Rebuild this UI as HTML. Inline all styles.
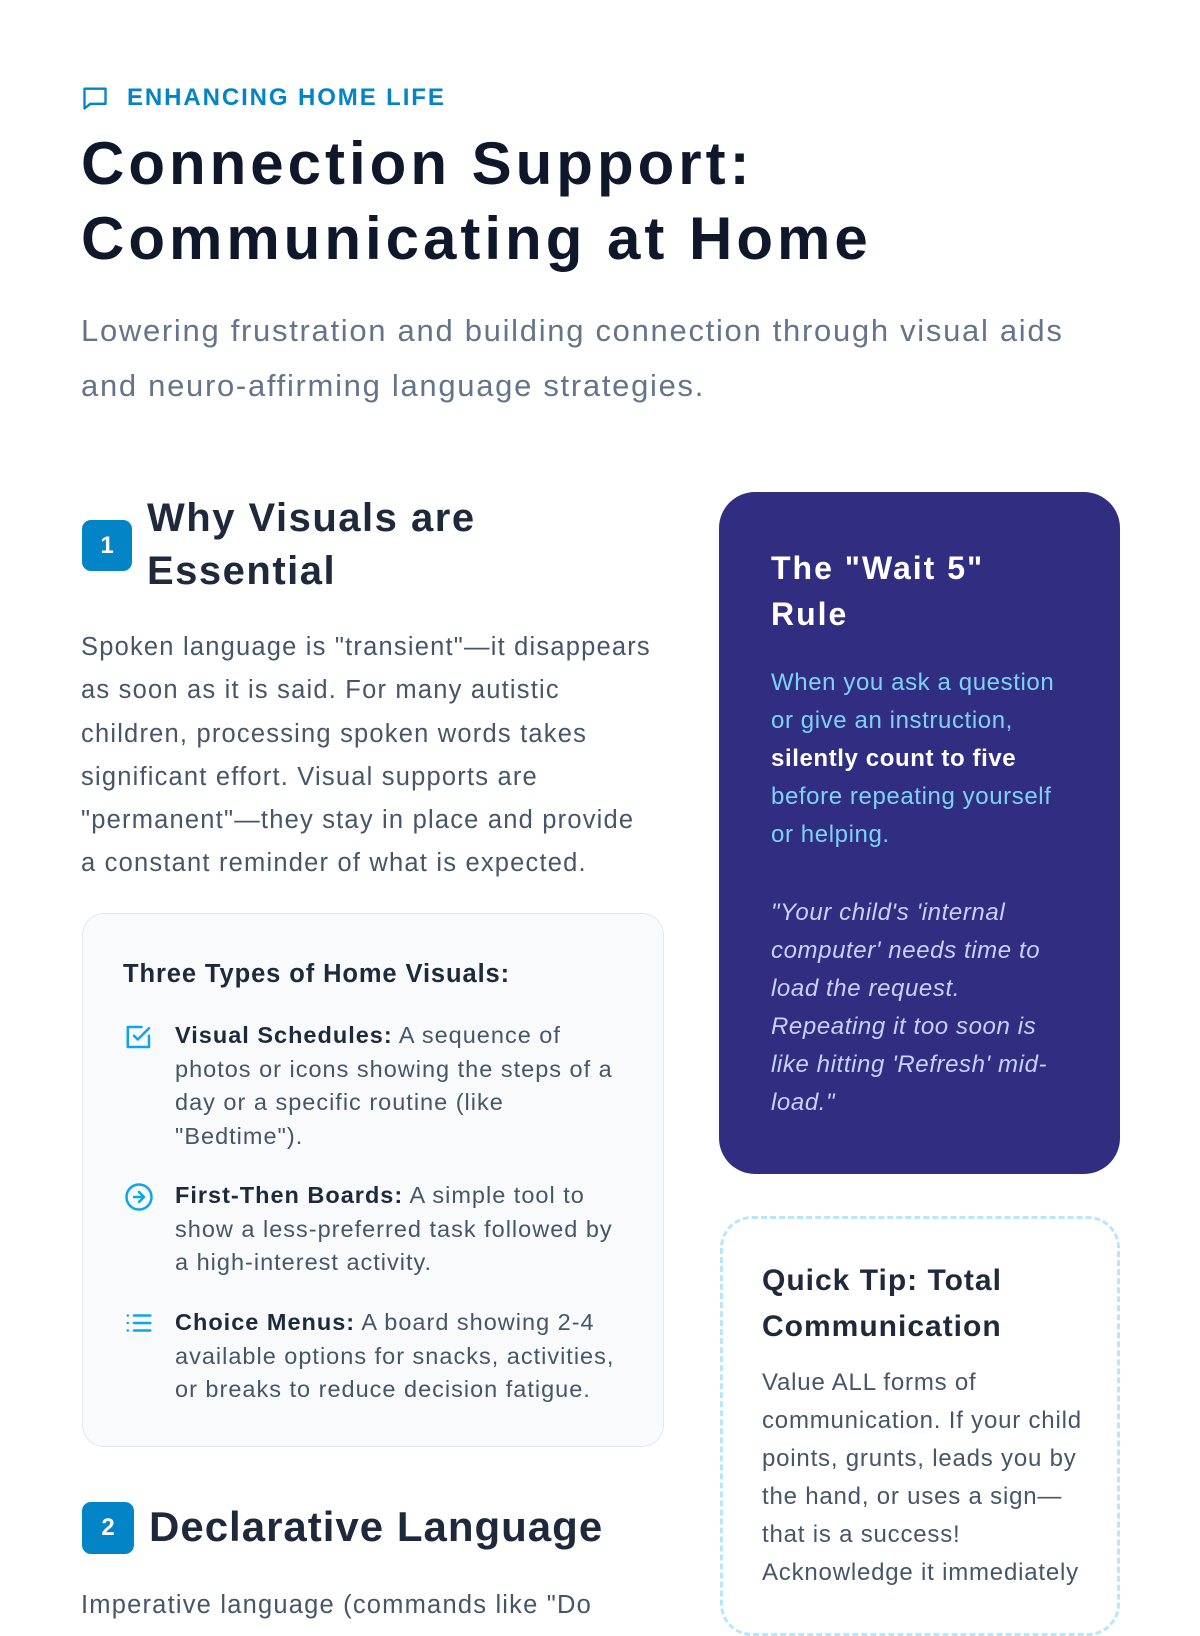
<!DOCTYPE html>
<html><head><meta charset="utf-8"><style>
*{margin:0;padding:0;box-sizing:border-box}
html,body{width:1200px;height:1600px;overflow:hidden;background:#fff;font-family:"Liberation Sans",sans-serif}
.abs{position:absolute;white-space:nowrap}
.eyebrow{left:81px;top:84px;color:#0284c7;font-weight:bold;font-size:24px;letter-spacing:1.9px;display:flex;align-items:center}
h1{left:81px;top:126px;font-size:60px;line-height:75px;color:#0f172a;font-weight:900;letter-spacing:4px}
.sub{left:81px;top:303px;font-size:31px;line-height:55px;color:#64748b;letter-spacing:1.7px}
.badge{background:#0284c7;color:#fff;font-weight:bold;border-radius:9px;display:flex;align-items:center;justify-content:center;font-size:24px}
.h2{color:#1e293b;font-weight:bold;font-size:40px;line-height:53px;letter-spacing:1.5px}
.p{left:81px;top:626px;font-size:25.5px;line-height:43.3px;color:#475569;letter-spacing:1.2px}
.box{left:82px;top:913px;width:582px;height:534px;background:#f8fafc;border:1.5px solid #e2e8f0;border-radius:22px}
.bt{left:123px;top:960px;font-size:25.5px;font-weight:bold;color:#1e293b;letter-spacing:0.9px}
.item{left:175px;font-size:23.5px;line-height:33.5px;color:#475569;letter-spacing:1px}
.item b{color:#1e293b}
.ic{left:124px}
.dark{left:719px;top:492px;width:401px;height:682px;background:#312e81;border-radius:36px}
.dt{left:771px;top:545px;font-size:32px;line-height:46px;color:#fff;font-weight:bold;letter-spacing:2px}
.db{left:771px;top:664px;font-size:24px;line-height:38px;color:#7dd3fc;letter-spacing:0.6px}
.db b{color:#fff}
.dq{left:771px;top:894px;font-size:24px;line-height:38px;color:#c7d2fe;font-style:italic;letter-spacing:0.6px}
.dash{left:720px;top:1216px;width:400px;height:420px;border:3px dashed #bae6fd;border-radius:32px}
.qt{left:762px;top:1258px;font-size:30px;line-height:46px;color:#1e293b;font-weight:bold;letter-spacing:1px}
.qb{left:762px;top:1364px;font-size:24px;line-height:38px;color:#475569;letter-spacing:0.8px}
</style></head><body>
<div class="abs eyebrow"><svg width="28" height="28" viewBox="0 0 24 24" fill="none" stroke="#0284c7" stroke-width="2" stroke-linejoin="round"><path d="M3 4h18v13H8l-5 4z"/></svg><span style="margin-left:18px">ENHANCING HOME LIFE</span></div>
<h1 class="abs">Connection Support:<br>Communicating at Home</h1>
<div class="abs sub">Lowering frustration and building connection through visual aids<br>and neuro-affirming language strategies.</div>

<div class="abs badge" style="left:82px;top:520px;width:50px;height:51px">1</div>
<div class="abs h2" style="left:147px;top:492px">Why Visuals are<br>Essential</div>
<div class="abs p">Spoken language is "transient"—it disappears<br>as soon as it is said. For many autistic<br>children, processing spoken words takes<br>significant effort. Visual supports are<br>"permanent"—they stay in place and provide<br>a constant reminder of what is expected.</div>

<div class="abs box"></div>
<div class="abs bt">Three Types of Home Visuals:</div>
<svg class="abs ic" style="top:1022px" width="30" height="30" viewBox="0 0 24 24" fill="none" stroke="#0ea5e9" stroke-width="2" stroke-linecap="round" stroke-linejoin="round"><path d="M20 11v9H3V4h11"/><path d="M8 11l3 3 9-9"/></svg>
<div class="abs item" style="top:1019px"><b>Visual Schedules:</b> A sequence of<br>photos or icons showing the steps of a<br>day or a specific routine (like<br>"Bedtime").</div>
<svg class="abs ic" style="top:1182px" width="30" height="30" viewBox="0 0 24 24" fill="none" stroke="#0ea5e9" stroke-width="2" stroke-linecap="round" stroke-linejoin="round"><circle cx="12" cy="12" r="10"/><path d="M8 12h8M12 8l4 4-4 4"/></svg>
<div class="abs item" style="top:1179px"><b>First-Then Boards:</b> A simple tool to<br>show a less-preferred task followed by<br>a high-interest activity.</div>
<svg class="abs ic" style="top:1308px" width="30" height="30" viewBox="0 0 24 24" fill="none" stroke="#0ea5e9" stroke-width="2" stroke-linecap="round"><path d="M8 6h13M8 12h13M8 18h13M3 6h.01M3 12h.01M3 18h.01"/></svg>
<div class="abs item" style="top:1306px"><b>Choice Menus:</b> A board showing 2-4<br>available options for snacks, activities,<br>or breaks to reduce decision fatigue.</div>

<div class="abs badge" style="left:82px;top:1502px;width:52px;height:52px">2</div>
<div class="abs h2" style="left:149px;top:1500px;font-size:42px;letter-spacing:1px">Declarative Language</div>
<div class="abs p" style="top:1584px">Imperative language (commands like "Do</div>

<div class="abs dark"></div>
<div class="abs dt">The "Wait 5"<br>Rule</div>
<div class="abs db">When you ask a question<br>or give an instruction,<br><b>silently count to five</b><br>before repeating yourself<br>or helping.</div>
<div class="abs dq">"Your child's 'internal<br>computer' needs time to<br>load the request.<br>Repeating it too soon is<br>like hitting 'Refresh' mid-<br>load."</div>

<div class="abs dash"></div>
<div class="abs qt">Quick Tip: Total<br>Communication</div>
<div class="abs qb">Value ALL forms of<br>communication. If your child<br>points, grunts, leads you by<br>the hand, or uses a sign—<br>that is a success!<br>Acknowledge it immediately</div>
</body></html>
